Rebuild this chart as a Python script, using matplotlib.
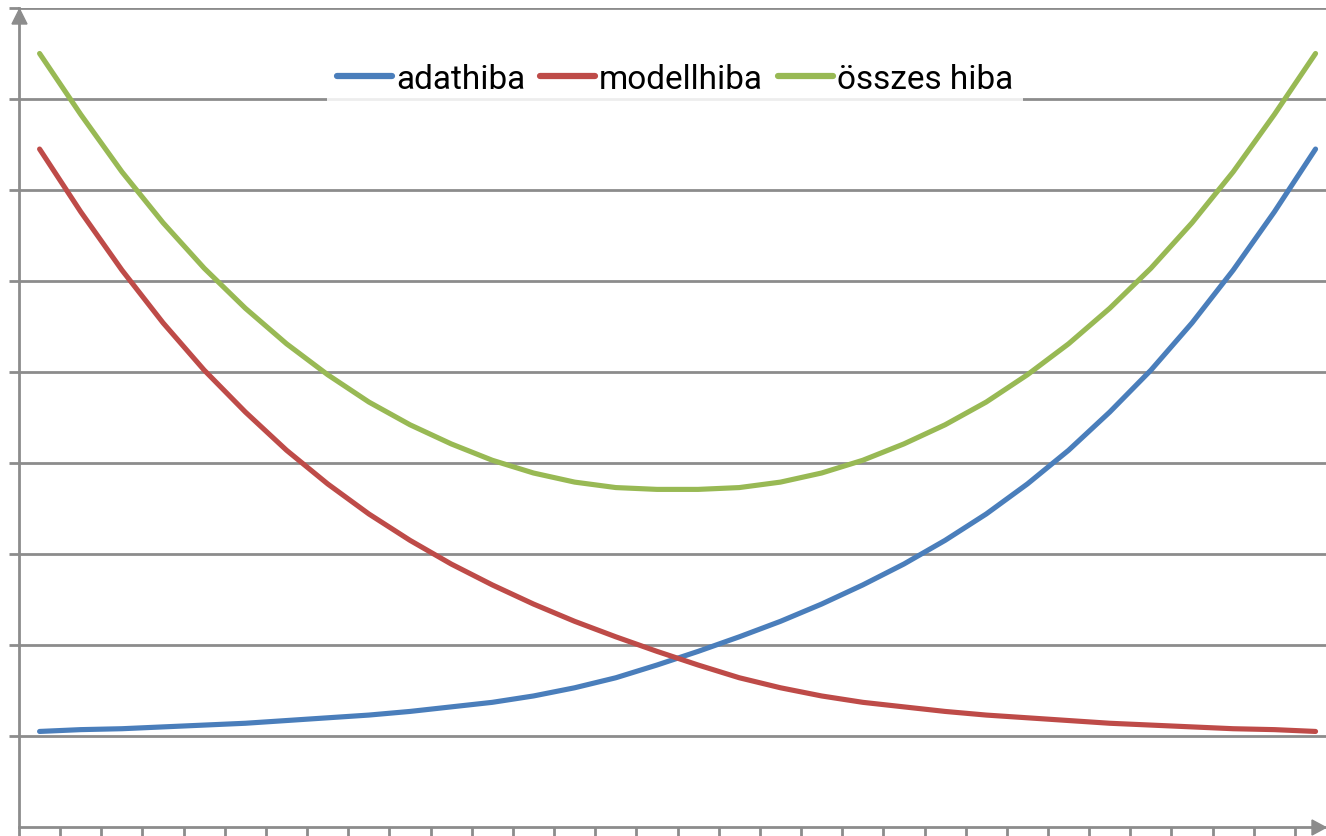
import matplotlib
matplotlib.use("Agg")
import matplotlib.pyplot as plt
import numpy as np

# 32 categories, values (grid step = 1)
labels = ["adathiba", "modellhiba", "összes hiba"]
colors = ["#4A7EBB", "#BE4B48", "#98B954"]

adathiba = [1.05, 1.07, 1.08, 1.10, 1.12, 1.14, 1.17, 1.20, 1.23, 1.27, 1.32,
            1.37, 1.44, 1.53, 1.64, 1.78, 1.93, 2.09, 2.26, 2.45, 2.66, 2.89,
            3.15, 3.44, 3.77, 4.14, 4.56, 5.02, 5.54, 6.12, 6.76, 7.45]
modellhiba = [7.45, 6.76, 6.12, 5.54, 5.02, 4.56, 4.14, 3.77, 3.44, 3.15, 2.89,
              2.66, 2.45, 2.26, 2.09, 1.93, 1.78, 1.64, 1.53, 1.44, 1.37, 1.32,
              1.27, 1.23, 1.20, 1.17, 1.14, 1.12, 1.10, 1.08, 1.07, 1.05]
osszes = [8.50, 7.83, 7.20, 6.64, 6.14, 5.70, 5.31, 4.97, 4.67, 4.42, 4.21,
          4.03, 3.89, 3.79, 3.73, 3.71, 3.71, 3.73, 3.79, 3.89, 4.03, 4.21,
          4.42, 4.67, 4.97, 5.31, 5.70, 6.14, 6.64, 7.20, 7.83, 8.50]

W, H = 1326, 837
fig = plt.figure(figsize=(W / 100, H / 100), dpi=100)
# axes: left spine at x=19px, bottom at y=828px, top gridline at y=9px
ax = fig.add_axes([19 / W, 9 / H, (W - 19) / W, 819 / H])
ax.set_facecolor("none")

step = 41.16  # px per category
x = np.arange(len(adathiba))
ax.set_xlim(-0.5, -0.5 + (W - 19) / step)
ax.set_ylim(0, 9)

grey = "#8C8C8C"
ax.set_yticks(np.arange(1, 10))
ax.set_xticks(np.arange(len(adathiba)) - 0.5)
ax.grid(axis="y", color=grey, lw=2)
ax.set_axisbelow(True)
ax.tick_params(axis="both", length=7, width=2, color=grey, direction="out",
               labelleft=False, labelbottom=False)
for s in ["top", "right"]:
    ax.spines[s].set_visible(False)
for s in ["left", "bottom"]:
    ax.spines[s].set_color(grey)
    ax.spines[s].set_linewidth(2)

for y, lab, c in zip([adathiba, modellhiba, osszes], labels, colors):
    ax.plot(x, y, color=c, lw=3.7, solid_capstyle="round",
            solid_joinstyle="round", label=lab, zorder=3)

# arrow heads on the axes
fig.patches.append(matplotlib.patches.Polygon(
    [[12 / W, 1 - 25 / H], [27 / W, 1 - 25 / H], [19.5 / W, 1 - 10 / H]],
    closed=True, transform=fig.transFigure, color=grey))
fig.patches.append(matplotlib.patches.Polygon(
    [[1312 / W, 1 - 821 / H], [1312 / W, 1 - 836 / H], [1326 / W, 1 - 828.5 / H]],
    closed=True, transform=fig.transFigure, color=grey))

leg = ax.legend(loc="center", bbox_to_anchor=((675 - 19) / (W - 19), 1 - 71 / 819),
                ncol=3, frameon=True, fancybox=False, handlelength=1.65,
                handletextpad=0.12, columnspacing=0.45, borderpad=0.3,
                prop={"family": "Roboto", "size": 24})
leg.get_frame().set_facecolor("white")
leg.get_frame().set_edgecolor("none")
leg.get_frame().set_alpha(0.85)
for line in leg.get_lines():
    line.set_linewidth(4.5)

fig.savefig("out.png", dpi=100)
